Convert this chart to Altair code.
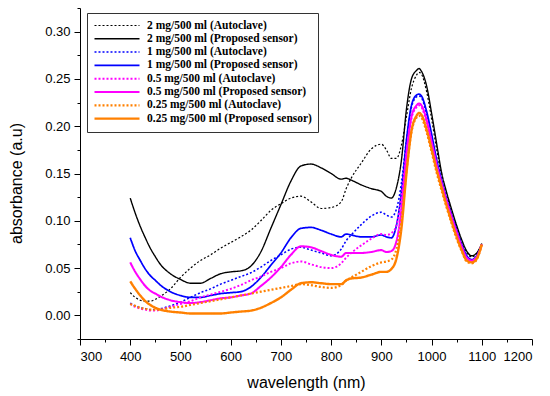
import altair as alt
import pandas as pd

wavelength = [400, 410, 420, 430, 440, 450, 460, 480, 500, 520, 540, 560, 580, 600, 620, 640, 660, 680,
              700, 720, 740, 760, 780, 800, 820, 830, 840, 860, 880, 900, 910, 920, 930, 940, 950, 960,
              970, 975, 980, 990, 1000, 1010, 1020, 1030, 1040, 1050, 1060, 1070, 1080, 1090, 1100]

series_names = [
    "2 mg/500 ml (Autoclave)",
    "2 mg/500 ml (Proposed sensor)",
    "1 mg/500 ml (Autoclave)",
    "1 mg/500 ml (Proposed sensor)",
    "0.5 mg/500 ml (Autoclave)",
    "0.5 mg/500 ml (Proposed sensor)",
    "0.25 mg/500 ml (Autoclave)",
    "0.25 mg/500 ml (Proposed sensor)",
]

auto_2 = [0.024, 0.019, 0.016, 0.015, 0.015, 0.017, 0.020, 0.028, 0.040, 0.050, 0.058, 0.064, 0.071, 0.077,
          0.083, 0.090, 0.100, 0.111, 0.118, 0.124, 0.126, 0.120, 0.113, 0.114, 0.120, 0.134, 0.145, 0.161,
          0.176, 0.181, 0.175, 0.166, 0.166, 0.180, 0.210, 0.240, 0.254, 0.257, 0.255, 0.237, 0.208, 0.176,
          0.147, 0.127, 0.108, 0.092, 0.077, 0.066, 0.062, 0.065, 0.075]
sensor_2 = [0.124, 0.108, 0.094, 0.082, 0.071, 0.062, 0.054, 0.044, 0.038, 0.034, 0.034, 0.039, 0.044, 0.046,
            0.047, 0.052, 0.067, 0.092, 0.117, 0.142, 0.158, 0.160, 0.156, 0.150, 0.144, 0.145, 0.143, 0.138,
            0.134, 0.131, 0.126, 0.124, 0.135, 0.164, 0.218, 0.250, 0.259, 0.261, 0.258, 0.243, 0.214, 0.182,
            0.151, 0.130, 0.112, 0.095, 0.080, 0.068, 0.063, 0.066, 0.076]
auto_1 = [0.013, 0.010, 0.008, 0.007, 0.006, 0.006, 0.007, 0.010, 0.014, 0.019, 0.024, 0.028, 0.033, 0.037,
          0.041, 0.045, 0.051, 0.058, 0.064, 0.070, 0.072, 0.069, 0.066, 0.063, 0.070, 0.079, 0.085, 0.096,
          0.105, 0.109, 0.106, 0.104, 0.112, 0.140, 0.185, 0.220, 0.231, 0.232, 0.230, 0.213, 0.188, 0.162,
          0.140, 0.120, 0.103, 0.087, 0.073, 0.061, 0.058, 0.062, 0.075]
sensor_1 = [0.082, 0.068, 0.058, 0.049, 0.042, 0.037, 0.032, 0.025, 0.021, 0.019, 0.019, 0.021, 0.023, 0.024,
            0.025, 0.030, 0.040, 0.053, 0.066, 0.082, 0.092, 0.093, 0.090, 0.086, 0.083, 0.086, 0.085, 0.083,
            0.083, 0.085, 0.083, 0.082, 0.095, 0.130, 0.185, 0.222, 0.233, 0.234, 0.232, 0.216, 0.192, 0.165,
            0.143, 0.123, 0.106, 0.090, 0.075, 0.063, 0.059, 0.063, 0.075]
auto_05 = [0.012, 0.009, 0.007, 0.006, 0.005, 0.005, 0.006, 0.009, 0.012, 0.015, 0.019, 0.022, 0.025, 0.028,
           0.032, 0.037, 0.041, 0.046, 0.050, 0.055, 0.057, 0.054, 0.051, 0.050, 0.055, 0.061, 0.066, 0.074,
           0.081, 0.086, 0.085, 0.087, 0.095, 0.125, 0.172, 0.208, 0.220, 0.222, 0.220, 0.204, 0.181, 0.157,
           0.137, 0.118, 0.101, 0.085, 0.071, 0.059, 0.057, 0.061, 0.075]
sensor_05 = [0.056, 0.046, 0.038, 0.031, 0.026, 0.023, 0.020, 0.016, 0.014, 0.013, 0.014, 0.016, 0.018, 0.019,
             0.021, 0.023, 0.031, 0.040, 0.051, 0.064, 0.073, 0.072, 0.068, 0.064, 0.062, 0.066, 0.066, 0.066,
             0.067, 0.069, 0.067, 0.068, 0.078, 0.112, 0.170, 0.210, 0.222, 0.224, 0.222, 0.207, 0.184, 0.160,
             0.140, 0.121, 0.104, 0.088, 0.073, 0.061, 0.058, 0.062, 0.075]
auto_025 = [0.012, 0.010, 0.008, 0.007, 0.006, 0.006, 0.006, 0.008, 0.009, 0.011, 0.013, 0.015, 0.017, 0.019,
            0.021, 0.023, 0.025, 0.027, 0.029, 0.031, 0.033, 0.032, 0.030, 0.029, 0.032, 0.037, 0.040, 0.046,
            0.052, 0.056, 0.057, 0.059, 0.070, 0.100, 0.152, 0.194, 0.209, 0.211, 0.209, 0.194, 0.173, 0.151,
            0.132, 0.114, 0.097, 0.081, 0.068, 0.057, 0.055, 0.059, 0.075]
sensor_025 = [0.036, 0.028, 0.021, 0.015, 0.011, 0.008, 0.006, 0.004, 0.003, 0.002, 0.002, 0.002, 0.002, 0.003,
              0.004, 0.005, 0.008, 0.013, 0.019, 0.027, 0.034, 0.035, 0.034, 0.033, 0.033, 0.037, 0.039, 0.040,
              0.043, 0.046, 0.046, 0.049, 0.060, 0.092, 0.150, 0.195, 0.211, 0.214, 0.212, 0.197, 0.176, 0.154,
              0.135, 0.116, 0.099, 0.083, 0.069, 0.058, 0.056, 0.060, 0.075]

series_values = [auto_2, sensor_2, auto_1, sensor_1, auto_05, sensor_05, auto_025, sensor_025]

x_major = [300, 400, 500, 600, 700, 800, 900, 1000, 1100, 1200]
x_minor = [350, 450, 550, 650, 750, 850, 950, 1050, 1150]
y_major = [0.0, 0.05, 0.10, 0.15, 0.20, 0.25, 0.30]
y_minor = [-0.025, 0.025, 0.075, 0.125, 0.175, 0.225, 0.275, 0.325]

colors = ["#000000", "#000000", "#0000FF", "#0000FF", "#FF00FF", "#FF00FF", "#FF8000", "#FF8000"]
dashes = [[2, 2], [1, 0], [2, 2], [1, 0], [2, 2], [1, 0], [2, 2], [1, 0]]
widths = [1.2, 2.4, 1.2, 2.4, 1.2, 2.4, 1.2, 2.4]

rows = []
for si, (name, vals) in enumerate(zip(series_names, series_values)):
    for w, v in zip(wavelength, vals):
        rows.append({"series": name, "order": si, "wavelength": w, "absorbance": v})
df = pd.DataFrame(rows)

x_scale = alt.Scale(domain=[300, 1200], nice=False, zero=False)
y_scale = alt.Scale(domain=[-0.025, 0.325], nice=False, zero=False)

base = alt.Chart(df)

lines = base.mark_line(interpolate="monotone").encode(
    x=alt.X("wavelength:Q", scale=x_scale,
            axis=alt.Axis(values=x_major, orient="bottom", title="wavelength (nm)", format="d",
                          titleY=48, titleBaseline="alphabetic", labelPadding=5)),
    y=alt.Y("absorbance:Q", scale=y_scale,
            axis=alt.Axis(values=y_major, orient="left", title="absorbance (a.u)", format=".2f",
                          titleX=-59, titleY=175, titleAngle=270, titleAlign="center",
                          titleBaseline="alphabetic", labelPadding=4)),
    color=alt.Color("series:N", scale=alt.Scale(domain=series_names, range=colors),
                    sort=series_names, title=None,
                    legend=alt.Legend(orient="none", legendX=7, legendY=5, title=None,
                                      symbolType="stroke", symbolSize=2025, clipHeight=13,
                                      rowPadding=0.3, labelOffset=6,
                                      labelFont="Liberation Serif", labelFontWeight="bold",
                                      labelFontSize=11.5, labelColor="black",
                                      strokeColor="#333333", padding=6,
                                      fillColor="white", labelLimit=400)),
    strokeDash=alt.StrokeDash("series:N", scale=alt.Scale(domain=series_names, range=dashes),
                              sort=series_names, title=None, legend=None),
    strokeWidth=alt.StrokeWidth("series:N", scale=alt.Scale(domain=series_names, range=widths),
                                sort=series_names, title=None, legend=None),
    order=alt.Order("order:Q"),
    detail="series:N",
)

minor = base.mark_line(opacity=0).encode(
    x=alt.X("wavelength:Q", scale=x_scale,
            axis=alt.Axis(values=x_minor, orient="bottom", labels=False, domain=False,
                          tickSize=3, title=None, grid=False)),
    y=alt.Y("absorbance:Q", scale=y_scale,
            axis=alt.Axis(values=y_minor, orient="left", labels=False, domain=False,
                          tickSize=3, title=None, grid=False)),
    detail="series:N",
)

chart = alt.layer(minor, lines).resolve_axis(x="independent", y="independent").properties(
    width=452, height=331,
    autosize=alt.AutoSizeParams(type="none"),
    padding={"left": 72, "top": 0, "right": 10, "bottom": 57},
).configure_view(stroke=None).configure_axis(
    grid=False,
    domainColor="black", tickColor="black", labelColor="black", titleColor="black",
    labelFont="Liberation Sans", titleFont="Liberation Sans",
    labelFontSize=13, titleFontSize=16, titleFontWeight="normal",
    tickSize=6, domainWidth=1, tickWidth=1,
)

chart.save("out.html", embed_options={"renderer": "svg", "actions": False})
